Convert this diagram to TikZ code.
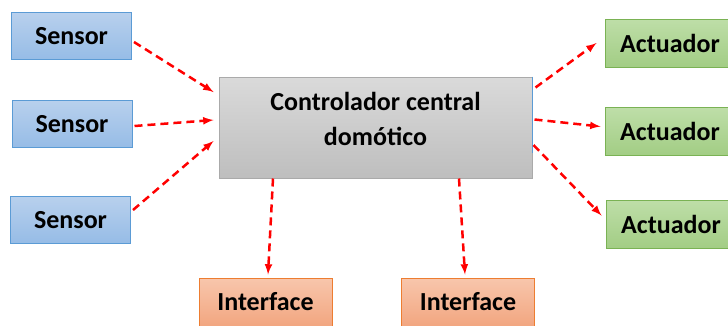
\documentclass[tikz,border=0pt]{standalone}
\usepackage{fontspec}
\setmainfont{Carlito}
\usepackage{tikz}
\usetikzlibrary{arrows.meta}
\tikzset{>=latex}
\definecolor{sensorfill}{RGB}{184,208,237}
\definecolor{sensorfilldark}{RGB}{150,188,230}
\definecolor{sensorline}{RGB}{91,155,213}
\definecolor{actfill}{RGB}{190,222,168}
\definecolor{actfilldark}{RGB}{162,205,132}
\definecolor{actline}{RGB}{122,178,84}
\definecolor{intfill}{RGB}{248,198,172}
\definecolor{intfilldark}{RGB}{242,166,128}
\definecolor{intline}{RGB}{237,125,49}
\definecolor{ctrlfill}{RGB}{218,218,218}
\definecolor{ctrlfilldark}{RGB}{190,190,190}
\definecolor{ctrlline}{RGB}{170,170,170}
\definecolor{flow}{RGB}{255,0,0}
\tikzset{box/.style={rectangle, line width=1pt, align=center,
  font=\fontsize{26}{35}\selectfont\bfseries}}
\tikzset{sensor/.style={box, draw=sensorline, top color=sensorfill, bottom color=sensorfilldark,
  minimum width=120pt, minimum height=47pt}}
\tikzset{actuator/.style={box, draw=actline, top color=actfill, bottom color=actfilldark,
  minimum width=130pt, minimum height=48pt}}
\tikzset{iface/.style={box, draw=intline, top color=intfill, bottom color=intfilldark,
  minimum width=133pt, minimum height=48pt}}
\tikzset{signal/.style={->, flow, line width=2.5pt, dash pattern=on 8pt off 5pt}}
\begin{document}
\begin{tikzpicture}[x=1pt, y=-1pt]
    \useasboundingbox(0, 0)rectangle(728, 325);
    \node[box, draw=ctrlline, top color=ctrlfill, bottom color=ctrlfilldark,
      minimum width=313pt, minimum height=101pt](ctrl)at(375.5, 127.5){};
    \node[box](ctrltext)at([yshift=9pt]ctrl.center){Controlador central\\domótico};
    \draw[sensorline, line width=0.8pt](ctrl.north east)--([yshift=-76pt]ctrl.north east);
    \node[sensor](s1)at(71.5, 36){Sensor};
    \node[sensor](s2)at(72, 124){Sensor};
    \node[sensor](s3)at(70.5, 220){Sensor};
    \node[actuator](a1)at(670, 43){Actuador};
    \node[actuator](a2)at(670, 131.5){Actuador};
    \node[actuator](a3)at(671, 224.5){Actuador};
    \node[iface](i1)at(265.5, 302){Interface};
    \node[iface](i2)at(468, 302){Interface};
    \draw[signal]([xshift=2pt, yshift=-6pt]s1.east)--([xshift=-5pt, yshift=35.5pt]ctrl.west);
    \draw[signal]([xshift=2pt, yshift=-2pt]s2.east)--([xshift=-5pt, yshift=7.5pt]ctrl.west);
    \draw[signal]([xshift=2pt, yshift=10pt]s3.east)--([xshift=-5pt, yshift=-13.5pt]ctrl.west);
    \draw[signal]([xshift=3pt, yshift=40pt]ctrl.east)--([xshift=-8pt]a1.west);
    \draw[signal]([xshift=2pt, yshift=8pt]ctrl.east)--([xshift=-4pt, yshift=5pt]a2.west);
    \draw[signal]([xshift=1pt, yshift=-17.5pt]ctrl.east)--([xshift=-4pt, yshift=9pt]a3.west);
    \draw[signal]([xshift=-102.5pt]ctrl.south)--([xshift=2.5pt, yshift=3pt]i1.north);
    \draw[signal]([xshift=83.5pt]ctrl.south)--([xshift=-3pt, yshift=3pt]i2.north);
\end{tikzpicture}
\end{document}
